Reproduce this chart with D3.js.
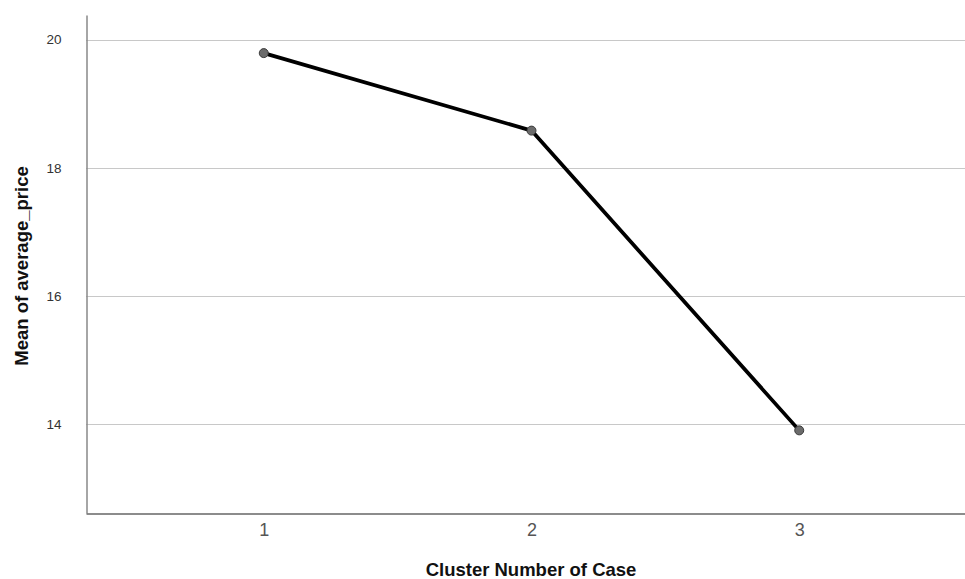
<!DOCTYPE html>
<html>
<head>
<meta charset="utf-8">
<script src="https://cdn.jsdelivr.net/npm/d3@7"></script>
<style>
  body { margin: 0; background: #fff; }
  svg { display: block; font-family: "Liberation Sans", Arial, sans-serif; }
</style>
</head>
<body>
<svg id="chart" width="965" height="579"></svg>
<script>
var clusters = ['1', '2', '3'];
var meanPrice = [19.79, 18.58, 13.90];
var yTicks = [14, 16, 18, 20];

var svg = d3.select('#chart');

var x = d3.scalePoint()
    .domain(clusters)
    .range([86, 977])
    .padding(0.664);

var y = d3.scaleLinear()
    .domain([12.61, 20.385])
    .range([513, 15]);

// gridlines
svg.append('g')
    .selectAll('line')
    .data(yTicks)
    .enter()
    .append('line')
    .attr('x1', 86)
    .attr('x2', 965)
    .attr('y1', function(d) { return Math.round(y(d)) + 0.5; })
    .attr('y2', function(d) { return Math.round(y(d)) + 0.5; })
    .attr('stroke', '#c8c8c8')
    .attr('stroke-width', 1);

// y axis
var yAxis = svg.append('g')
    .attr('transform', 'translate(86.5,0)')
    .call(d3.axisLeft(y).tickValues(yTicks).tickSize(0).tickPadding(25));
yAxis.select('.domain').attr('stroke', '#888').attr('stroke-width', 1.5);
yAxis.selectAll('text')
    .attr('font-size', 13.5)
    .attr('fill', '#333')
    .attr('font-family', 'Liberation Sans, Arial, sans-serif');

// x axis
var xAxis = svg.append('g')
    .attr('transform', 'translate(0,513.5)')
    .call(d3.axisBottom(x).tickSize(0).tickPadding(10));
xAxis.select('.domain').attr('stroke', '#666').attr('stroke-width', 1.5);
xAxis.selectAll('text')
    .attr('font-size', 18)
    .attr('fill', '#555')
    .attr('font-family', 'Liberation Sans, Arial, sans-serif');

// line
var line = d3.line()
    .x(function(d, i) { return x(clusters[i]); })
    .y(function(d) { return y(d); });

svg.append('path')
    .datum(meanPrice)
    .attr('d', line)
    .attr('fill', 'none')
    .attr('stroke', '#000')
    .attr('stroke-width', 3.75)
    .attr('stroke-linejoin', 'round');

svg.append('g')
    .selectAll('circle')
    .data(meanPrice)
    .enter()
    .append('circle')
    .attr('cx', function(d, i) { return x(clusters[i]); })
    .attr('cy', function(d) { return y(d); })
    .attr('r', 4.5)
    .attr('fill', '#6b6b6b')
    .attr('stroke', '#3a3a3a')
    .attr('stroke-width', 1);

// axis titles
svg.append('text')
    .attr('x', 531)
    .attr('y', 576)
    .attr('text-anchor', 'middle')
    .attr('font-size', 18.5)
    .attr('font-weight', 'bold')
    .attr('fill', '#111')
    .text('Cluster Number of Case');

svg.append('text')
    .attr('transform', 'translate(28,266) rotate(-90)')
    .attr('text-anchor', 'middle')
    .attr('font-size', 18.5)
    .attr('font-weight', 'bold')
    .attr('fill', '#111')
    .text('Mean of average_price');
</script>
</body>
</html>
